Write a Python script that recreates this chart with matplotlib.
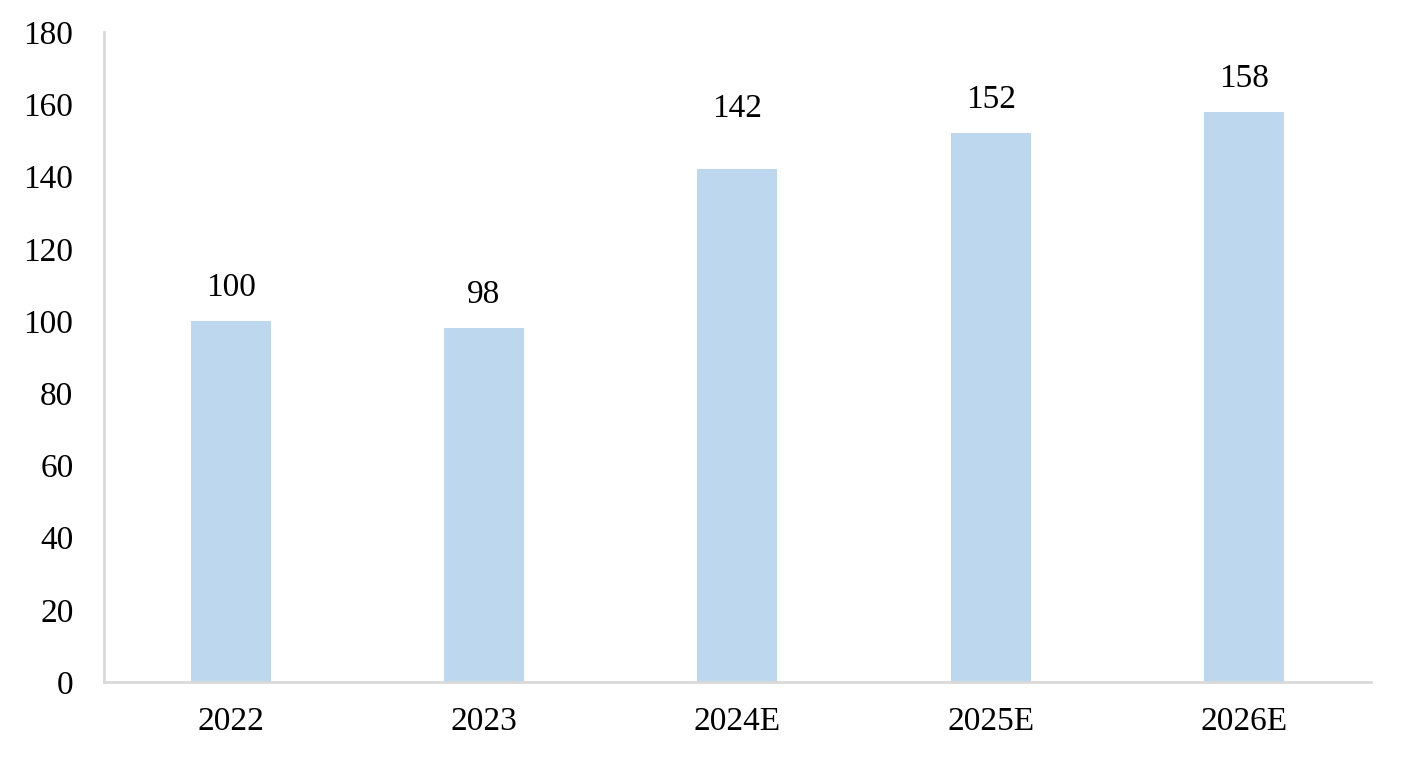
import matplotlib.pyplot as plt

# Datos del gráfico
anios = ['2022', '2023', '2024E', '2025E', '2026E']
valores = [100, 98, 142, 152, 158]
marcas_y = [0, 20, 40, 60, 80, 100, 120, 140, 160, 180]

plt.rcParams['font.family'] = ['Liberation Serif', 'DejaVu Serif']

fig = plt.figure(figsize=(14.16, 7.68), dpi=100)
ax = fig.add_axes([0.0734, 0.112, 0.8946, 0.846])

posiciones = list(range(len(anios)))
barras = ax.bar(posiciones, valores, width=0.315, color='#bdd7ee')

# Etiquetas de valor encima de cada barra (la de 2024E va un poco más alta)
separacion = [13, 13, 33, 13, 13]
for x, v, sep in zip(posiciones, valores, separacion):
    ax.annotate(str(v), (x, v), xytext=(0, sep), textcoords='offset points',
                ha='center', va='bottom', fontsize=24)

ax.set_xlim(-0.5, len(anios) - 0.5)
ax.set_ylim(0, 180)
ax.set_yticks(marcas_y)
ax.set_xticks(posiciones)
ax.set_xticklabels(anios)
ax.tick_params(axis='both', length=0, labelsize=24)
ax.tick_params(axis='y', pad=22)
ax.tick_params(axis='x', pad=18)

for lado in ['top', 'right']:
    ax.spines[lado].set_visible(False)
for lado in ['left', 'bottom']:
    ax.spines[lado].set_color('#d9d9d9')
    ax.spines[lado].set_linewidth(2)

fig.savefig('out.png', dpi=100)
